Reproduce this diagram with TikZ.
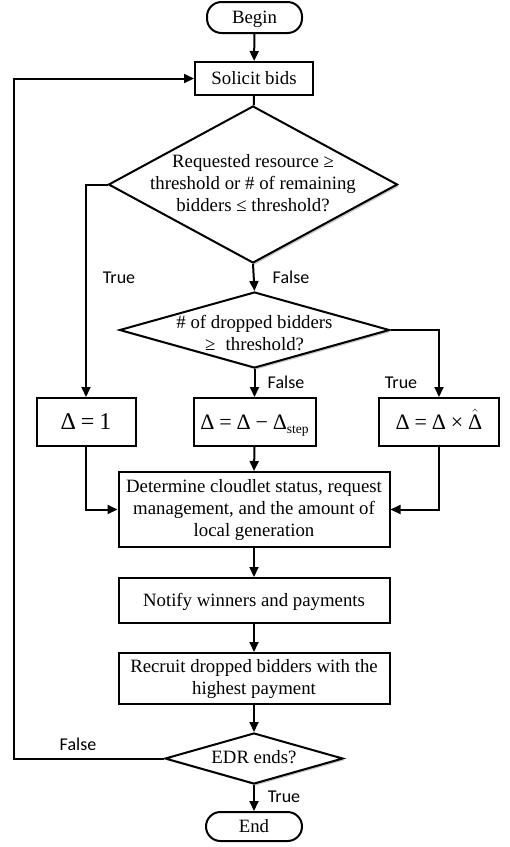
\documentclass[tikz,border=0pt]{standalone}
\usepackage{fontspec}
\setmainfont{Liberation Serif}
\newfontfamily\lblfont{Carlito}
\usetikzlibrary{arrows.meta,shapes.geometric,shadows}
\newcommand\dtxt[2]{\smash{\raisebox{#1}{\makebox[0pt]{\begin{tabular}{@{}c@{}}#2\end{tabular}}}}}
\begin{document}
\begin{tikzpicture}[x=1pt,y=-1pt,
  font=\fontsize{18.8}{22}\selectfont,
  box/.style={draw, line width=2pt, rectangle, inner sep=0pt, align=center},
  single/.style={text height=12.5pt, text depth=0pt},
  term/.style={box, single, rounded corners=14.5pt},
  dec/.style={draw, line width=2pt, diamond, inner sep=0pt, fill=white,
    drop shadow={shadow xshift=1.8pt, shadow yshift=-1.8pt, opacity=0.22, fill=black}},
  arr/.style={line width=2pt, -{Triangle[length=10pt,width=9pt]}},
  ln/.style={line width=2pt},
  lbl/.style={font=\lblfont\fontsize{18}{20}\selectfont, inner sep=0pt, text height=11.6pt, text depth=0pt}]
\useasboundingbox (0,0) rectangle (510,847);

\node[term, minimum width=95pt, minimum height=31pt] (begin) at (254.5,17.5) {Begin};
\node[box, single, minimum width=118pt, minimum height=33pt] (solicit) at (254,78.5) {Solicit bids};
\node[dec, minimum width=289pt, minimum height=157pt] (d1) at (253,184.5)
  {\dtxt{-4.5pt}{Requested resource ≥\\threshold or \# of remaining\\bidders ≤ threshold?}};
\node[dec, minimum width=270pt, minimum height=76pt] (d2) at (254.5,330)
  {\dtxt{-9pt}{\# of dropped bidders\\≥\hspace{0.55em}threshold?}};

\node[box, minimum width=99pt, minimum height=48pt, text height=17pt, text depth=2pt] (b1) at (86,422)
  {\fontsize{24}{26}\selectfont Δ\hspace{.2em}=\hspace{.2em}1};
\node[box, minimum width=122pt, minimum height=48pt, text height=16pt, text depth=1.5pt] (b2) at (254.5,422)
  {\fontsize{22}{24}\selectfont Δ\hspace{.22em}=\hspace{.22em}Δ\hspace{.22em}−\hspace{.22em}Δ\raisebox{-4pt}{\fontsize{13.5}{14}\selectfont step}};
\node[box, minimum width=120pt, minimum height=48pt, text height=16pt, text depth=1.5pt] (b3) at (439,422)
  {\fontsize{22}{24}\selectfont Δ\hspace{.22em}=\hspace{.22em}Δ\hspace{.22em}×\hspace{.22em}$\hat{\mbox{Δ}}$};

\node[box, minimum width=271pt, minimum height=75pt] (det) at (254,509.5)
  {Determine cloudlet status, request\\management, and the amount of\\local generation};
\node[box, single, minimum width=271pt, minimum height=45pt] (notify) at (254,600.5)
  {Notify winners and payments};
\node[box, minimum width=271pt, minimum height=51pt] (recruit) at (254,678.5)
  {Recruit dropped bidders with the\\highest payment};
\node[dec, minimum width=178pt, minimum height=51pt] (d3) at (254,758.5)
  {\dtxt{-4.5pt}{EDR ends?}};
\node[term, minimum width=96pt, minimum height=29pt] (endn) at (254,826.5) {End};

\coordinate (lp) at (14,0);

\draw[arr] (begin) -- (solicit);
\draw[ln] (solicit) -- (d1);
\draw[arr] (d1.west) -| (b1.north);
\draw[arr] (d1.south) -- (d2.north);
\draw[arr] (d2.east) -| (b3.north);
\draw[arr] (d2.south) -- (b2.north);
\draw[arr] (b1.south) |- (det.west);
\draw[arr] (b3.south) |- (det.east);
\draw[arr] (b2.south) -- (det.north);
\draw[arr] (det) -- (notify);
\draw[arr] (notify) -- (recruit);
\draw[arr] (recruit) -- (d3);
\draw[arr] (d3.south) -- (endn.north);
\draw[arr] (d3.west) -- (d3.west -| lp) |- (solicit.west);

\node[lbl] (t1) at (119,278) {True};
\node[lbl] (f1) at (291,278) {False};
\node[lbl] (f2) at (286,383) {False};
\node[lbl] (t2) at (401,383) {True};
\node[lbl] (f3) at (78,745) {False};
\node[lbl] (t3) at (284,797) {True};
\end{tikzpicture}
\end{document}
